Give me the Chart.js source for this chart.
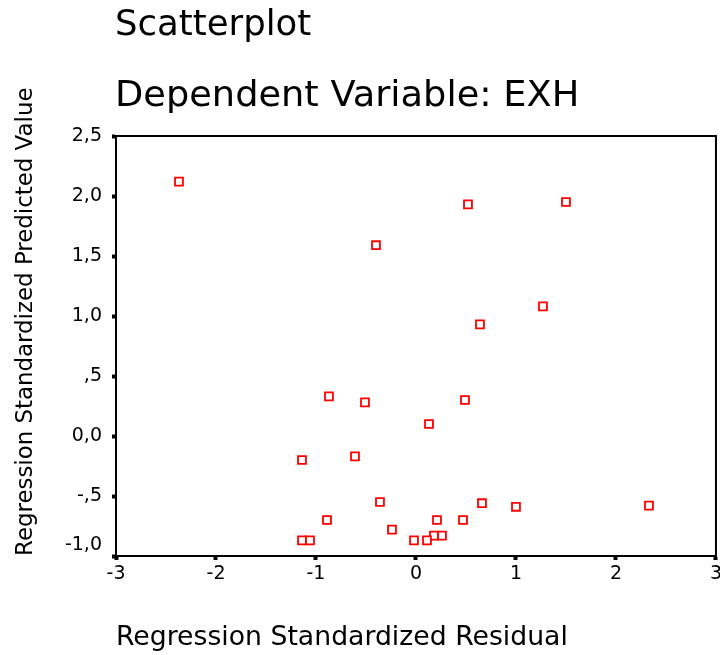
<!DOCTYPE html>
<html>
<head>
<meta charset="utf-8">
<script src="https://cdn.jsdelivr.net/npm/chart.js@4/dist/chart.umd.min.js"></script>
<style>
  html, body { margin: 0; padding: 0; background: #fff; overflow: hidden; }
  canvas { display: block; }
</style>
</head>
<body>
<!-- canvas is a few px wider than the window so the last x label is cut at the edge, as in the original -->
<canvas id="chart" width="725" height="655"></canvas>
<script>
const residuals = [-2.37, -0.40, 0.52, 1.50, 1.27, 0.64, -0.87, -0.51, 0.49, 0.13, -1.14, -0.61, -0.36,
                   0.66, 1.00, 2.33, -0.89, 0.21, 0.47, -0.24, 0.18, 0.26, -1.14, -1.06, -0.02, 0.11];
const predicted = [2.12, 1.59, 1.93, 1.95, 1.08, 0.93, 0.33, 0.28, 0.30, 0.10, -0.20, -0.17, -0.55,
                   -0.56, -0.59, -0.58, -0.70, -0.70, -0.70, -0.78, -0.83, -0.83, -0.87, -0.87, -0.87, -0.87];
const xTickLabels = ['-3', '-2', '-1', '0', '1', '2', '3'];
const yTickLabels = ['-1,0', '-,5', '0,0', ',5', '1,0', '1,5', '2,0', '2,5'];
const titleLines = ['Scatterplot', 'Dependent Variable: EXH'];

const FONT = "'DejaVu Sans', 'Liberation Sans', Arial, sans-serif";

const titlePlugin = {
    id: 'spssTitle',
    afterDraw(chart) {
        const { ctx: c, chartArea } = chart;
        const x0 = 115;
        c.save();
        c.fillStyle = '#000';
        c.textBaseline = 'alphabetic';
        c.textAlign = 'left';
        c.font = '35px ' + FONT;
        // SPSS titles are a little wider than the font
        c.save();
        c.translate(x0, 35);
        c.scale(1.015, 1);
        c.fillText(titleLines[0], 0, 0);
        c.restore();
        c.save();
        c.translate(x0, 106);
        c.scale(1.05, 1);
        c.fillText(titleLines[1], 0, 0);
        c.restore();
        // box round the plot (top and right sides)
        c.strokeStyle = '#000';
        c.lineWidth = 2;
        c.strokeRect(chartArea.left, chartArea.top, chartArea.right - chartArea.left, chartArea.bottom - chartArea.top);
        c.restore();
    }
};

new Chart(document.getElementById('chart'), {
    type: 'scatter',
    data: {
        datasets: [{
            data: residuals.map((x, i) => ({ x, y: predicted[i] })),
            pointStyle: 'rect',
            pointRadius: 5.6,
            pointHoverRadius: 5.6,
            borderColor: '#ff0000',
            backgroundColor: '#ffffff',
            borderWidth: 1.8,
        }]
    },
    options: {
        responsive: false,
        animation: false,
        layout: { padding: { top: 136, right: 1, bottom: 0, left: 0 } },
        plugins: {
            legend: { display: false },
            tooltip: { enabled: false },
        },
        scales: {
            x: {
                type: 'linear',
                min: -3,
                max: 3,
                afterFit(scale) {
                    scale.height = 99;
                },
                ticks: {
                    stepSize: 1,
                    maxRotation: 0,
                    padding: 3,
                    color: '#000',
                    font: { family: FONT, size: 19 },
                    callback: (v, i) => xTickLabels[i],
                },
                grid: { drawOnChartArea: false, drawTicks: true, tickLength: 4, tickWidth: 4, tickColor: '#000' },
                border: { color: '#000', width: 2 },
                title: {
                    display: true,
                    text: 'Regression Standardized Residual',
                    align: 'start',
                    color: '#000',
                    font: { family: FONT, size: 26.7 },
                    padding: { top: 0, bottom: 1 },
                },
            },
            y: {
                type: 'linear',
                min: -1,
                max: 2.5,
                afterFit(scale) {
                    scale.width = 116;
                },
                ticks: {
                    stepSize: 0.5,
                    padding: 10,
                    color: '#000',
                    font: { family: FONT, size: 19 },
                    // bottom label sits a bit above its tick in the original
                    callback: (v, i) => i === 0 ? [yTickLabels[i], ''] : yTickLabels[i],
                },
                grid: { drawOnChartArea: false, drawTicks: true, tickLength: 4, tickWidth: 4, tickColor: '#000' },
                border: { color: '#000', width: 2 },
                title: {
                    display: true,
                    text: 'Regression Standardized Predicted Value',
                    align: 'start',
                    color: '#000',
                    font: { family: FONT, size: 22.9 },
                    padding: { top: 12, bottom: 0 },
                },
            }
        }
    },
    plugins: [titlePlugin]
});
</script>
</body>
</html>
